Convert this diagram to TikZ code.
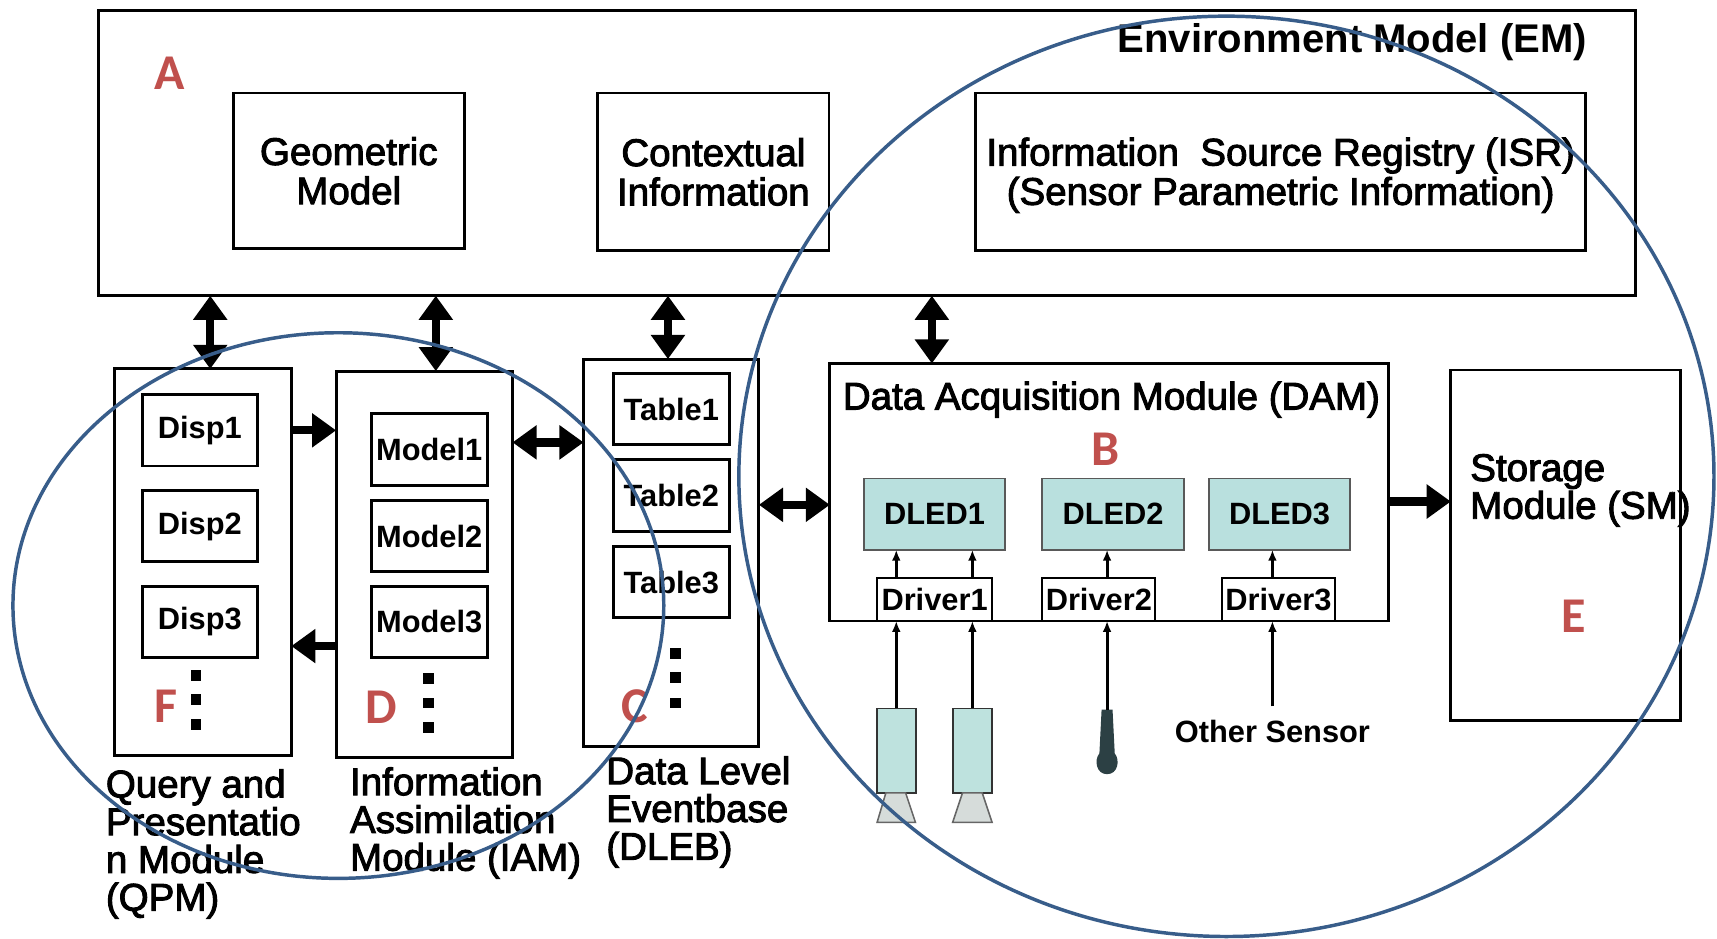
\documentclass[tikz,border=0pt]{standalone}
\usepackage{fontspec}
\setmainfont{Liberation Sans}[UprightFeatures={FakeBold=2.5}]
\newfontfamily\tagfont{Carlito}
\usetikzlibrary{arrows.meta}
\definecolor{tagred}{RGB}{192,80,77}
\definecolor{ringblue}{RGB}{56,93,138}
\definecolor{ledfill}{RGB}{185,224,222}
\definecolor{camfill}{RGB}{190,226,222}
\definecolor{lensfill}{RGB}{214,220,218}
\definecolor{micfill}{RGB}{44,64,68}
\begin{document}
\begin{tikzpicture}[x=0.01cm, y=-0.01cm,
  box/.style={draw, line width=0.75pt, inner sep=0pt, outer sep=0pt, align=center,
    font=\fontsize{10}{10.2}\selectfont},
  sub/.style={draw, line width=0.75pt, inner sep=0pt, outer sep=0pt,
    font=\bfseries\fontsize{8}{8}\selectfont, minimum width=1.05cm, minimum height=0.65cm},
  led/.style={draw=black!65, fill=ledfill, line width=0.5pt, inner sep=0pt, outer sep=0pt,
    font=\bfseries\fontsize{8}{8}\selectfont, minimum width=1.29cm, minimum height=0.65cm},
  drv/.style={draw, fill=white, line width=0.5pt, inner sep=0pt, outer sep=0pt,
    font=\bfseries\fontsize{8}{8}\selectfont, minimum width=1.04cm, minimum height=0.39cm},
  cam/.style={draw=black!80, fill=camfill, line width=0.5pt, inner sep=0pt, outer sep=0pt,
    minimum width=0.355cm, minimum height=0.77cm},
  lens/.style={draw=black!60, fill=lensfill, line width=0.4pt},
  blk/.style={line width=0.075cm, -{Triangle[width=0.30cm,length=0.22cm]}},
  dblk/.style={line width=0.075cm, {Triangle[width=0.30cm,length=0.22cm]}-{Triangle[width=0.30cm,length=0.22cm]}},
  feed/.style={line width=0.8pt, -{Latex[length=0.1cm,width=0.08cm]}},
  ring/.style={draw=ringblue, line width=0.9pt},
  tag/.style={text=tagred, inner sep=0pt, font=\tagfont\bfseries\fontsize{13}{13}\selectfont},
  lbl/.style={align=left, inner sep=0pt, anchor=north west, font=\fontsize{10}{9.8}\selectfont},
  dotmark/.style={fill=black}
]
\useasboundingbox (0,0) rectangle (1568,857);
\fill[white] (0,0) rectangle (1568,857);

% Environment model and its contents
\node[box, minimum width=14.03cm, minimum height=2.60cm] (em) at (791.5,140) {};
\node[anchor=base east, inner sep=0pt, font=\bfseries\fontsize{10.4}{10.4}\selectfont] (emt) at (1450,48) {Environment Model (EM)};
\node[box, minimum width=2.11cm, minimum height=1.42cm] (geo) at (318.5,156) {Geometric\\Model};
\node[box, minimum width=2.11cm, minimum height=1.44cm] (ctx) at (651.5,157) {Contextual\\Information};
\node[box, minimum width=5.57cm, minimum height=1.44cm] (isr) at (1169.5,157) {};
\node[align=center, inner sep=0pt, font=\fontsize{10}{10.2}\selectfont] (isrt) at (1169.5,160) {Information\ \ Source Registry (ISR)\\(Sensor Parametric Information)};

% Lower modules
\node[box, minimum width=1.61cm, minimum height=3.53cm] (qpm) at (185.5,513.5) {};
\node[box, minimum width=1.61cm, minimum height=3.53cm] (iam) at (387.5,515.5) {};
\node[box, minimum width=1.60cm, minimum height=3.54cm] (dleb) at (613,505) {};
\node[box, minimum width=5.10cm, minimum height=2.35cm] (dam) at (1013,449.5) {};
\node[box, minimum width=2.10cm, minimum height=3.20cm] (sm) at (1430,498) {};

\node[anchor=base, inner sep=0pt, font=\fontsize{10}{10}\selectfont] (damt) at (1015,374) {Data Acquisition Module (DAM)};
\node[lbl] (smt) at (1342,414) {Storage\\Module (SM)};

% Displays, models, tables
\node[sub] (disp1) at (182.5,393) {Disp1};
\node[sub] (disp2) at (182.5,480.5) {Disp2};
\node[sub] (disp3) at (182.5,568) {Disp3};
\node[sub, minimum width=1.06cm] (model1) at (392,410.5) {Model1};
\node[sub, minimum width=1.06cm] (model2) at (392,489.5) {Model2};
\node[sub, minimum width=1.06cm] (model3) at (392,568) {Model3};
\node[sub, minimum width=1.06cm] (table1) at (613,373.5) {Table1};
\node[sub, minimum width=1.06cm] (table2) at (613,452.5) {Table2};
\node[sub, minimum width=1.06cm] (table3) at (613,531.5) {Table3};

\foreach \yy in {617,639,662} \fill[dotmark] (174,\yy-5) rectangle (184,\yy+5);
\foreach \yy in {620,642,664} \fill[dotmark] (386,\yy-5) rectangle (396,\yy+5);
\foreach \yy in {597,619,642} \fill[dotmark] (612,\yy-5) rectangle (622,\yy+5);

% Event detectors and drivers
\node[led] (dled1) at (853.5,469.5) {DLED1};
\node[led] (dled2) at (1016.5,469.5) {DLED2};
\node[led] (dled3) at (1168.5,469.5) {DLED3};
\node[drv, minimum width=1.05cm] (drv1) at (853.5,547.5) {Driver1};
\node[drv, minimum width=1.03cm] (drv2) at (1003.5,547.5) {Driver2};
\node[drv, minimum width=1.03cm] (drv3) at (1167.5,547.5) {Driver3};

% Sensors
\node[cam] (cam1) at (818.5,685.5) {};
\node[cam] (cam2) at (888,685.5) {};
\draw[lens] (809,724) -- (827,724) -- (836,751) -- (801,751) -- cycle;
\draw[lens] (879,724) -- (897,724) -- (906,751) -- (870,751) -- cycle;
\coordinate (mic) at (1011,648);
\fill[micfill] (1006,648) -- (1016,648) -- (1018,688) .. controls (1023,694) and (1021,707) .. (1011,707) .. controls (1001,707) and (999,694) .. (1004,688) -- cycle;
\node[inner sep=0pt, font=\bfseries\fontsize{8}{8}\selectfont] (oth) at (1162,668) {Other Sensor};
\coordinate (othtop) at (1162,645);

\draw[feed] (cam1.north) -- (drv1.south -| cam1.north);
\draw[feed] (cam2.north) -- (drv1.south -| cam2.north);
\draw[feed] (mic) -- (drv2.south -| mic);
\draw[feed] (othtop) -- (drv3.south -| othtop);
\draw[feed] (drv1.north -| cam1.north) -- (dled1.south -| cam1.north);
\draw[feed] (drv1.north -| cam2.north) -- (dled1.south -| cam2.north);
\draw[feed] (drv2.north -| mic) -- (dled2.south -| mic);
\draw[feed] (drv3.north -| othtop) -- (dled3.south -| othtop);

% Module captions
\node[lbl] (qpmt) at (96,702) {Query and\\Presentatio\\n Module\\(QPM)};
\node[lbl] (iamt) at (319,700) {Information\\Assimilation\\Module (IAM)};
\node[lbl] (dlebt) at (553,690) {Data Level\\Eventbase\\(DLEB)};

% Block arrows between modules
\coordinate (c1) at (192,0);
\coordinate (c2) at (398,0);
\coordinate (c3) at (610,0);
\coordinate (c4) at (851,0);
\draw[dblk] (em.south -| c1) -- (qpm.north -| c1);
\draw[dblk] (em.south -| c2) -- (iam.north -| c2);
\draw[dblk] (em.south -| c3) -- (dleb.north -| c3);
\draw[dblk] (em.south -| c4) -- (dam.north -| c4);
\coordinate (r1) at (0,393);
\coordinate (r2) at (0,590);
\coordinate (r3) at (0,404);
\coordinate (r4) at (0,461);
\coordinate (r5) at (0,458);
\draw[blk] (qpm.east |- r1) -- (iam.west |- r1);
\draw[blk] (iam.west |- r2) -- (qpm.east |- r2);
\draw[dblk] (iam.east |- r3) -- (dleb.west |- r3);
\draw[dblk] (dleb.east |- r4) -- (dam.west |- r4);
\draw[blk] (dam.east |- r5) -- (sm.west |- r5);

% Region tags
\node[tag] (ta) at (155,67) {A};
\node[tag] (tb) at (1010,410) {B};
\node[tag] (tc) at (580,645) {C};
\node[tag] (td) at (348,646) {D};
\node[tag] (te) at (1437,563) {E};
\node[tag] (tf) at (152,645) {F};

% Grouping rings
\draw[ring] (1120,435) ellipse [x radius=4.45cm, y radius=4.20cm];
\draw[ring] (309,553) ellipse [x radius=2.97cm, y radius=2.49cm];
\end{tikzpicture}
\end{document}
